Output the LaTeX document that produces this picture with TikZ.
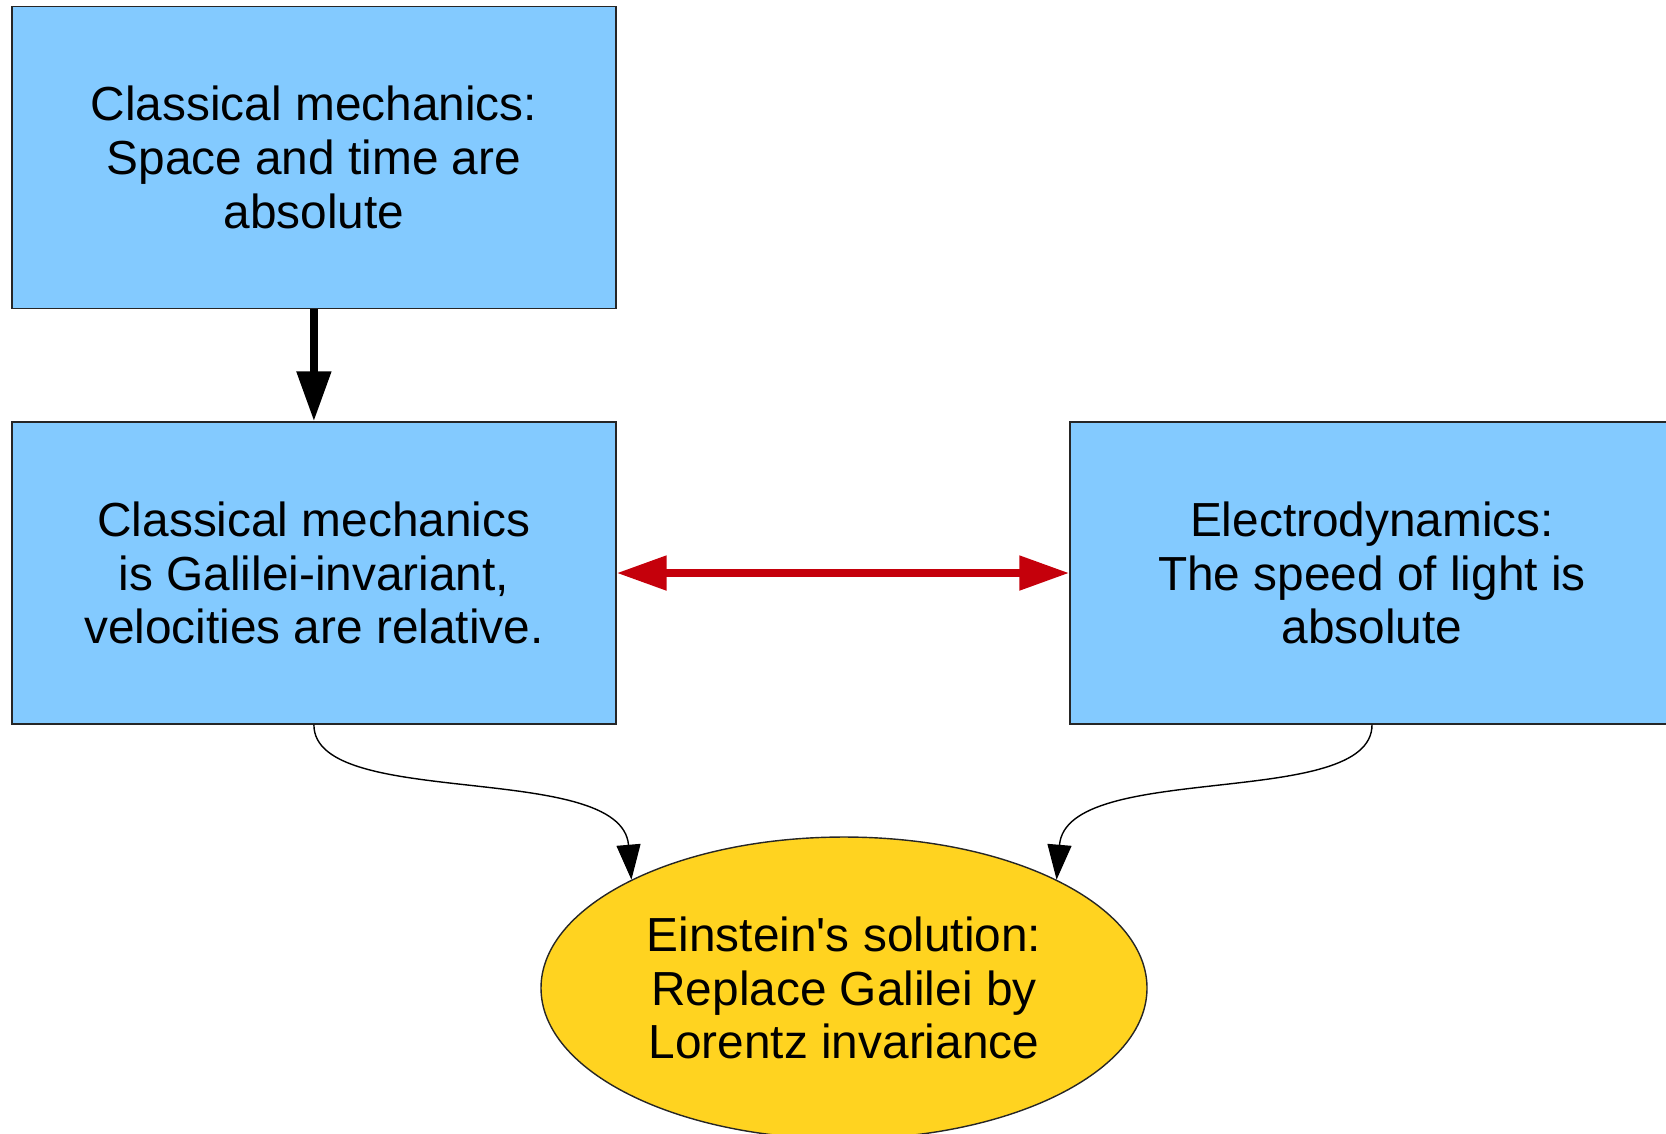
\documentclass[tikz,border=0pt]{standalone}
\usepackage{fontspec}
\setmainfont{Liberation Sans}
\usetikzlibrary{shapes.geometric,arrows.meta}
\definecolor{skyblue}{HTML}{83CAFF}
\definecolor{sunyellow}{HTML}{FFD320}
\definecolor{signalred}{HTML}{C5000B}
\tikzset{
	theory/.style = {rectangle, draw = black!85, line width = 0.4pt, fill = skyblue,
		minimum width = 6.04cm, minimum height = 3.02cm, inner sep = 0pt,
		align = center, font = \fontsize{13.6}{15.3}\selectfont},
	solution/.style = {ellipse, draw = black!85, line width = 0.4pt, fill = sunyellow,
		minimum width = 6.06cm, minimum height = 3.02cm, inner sep = 0pt,
		align = center, font = \fontsize{13.6}{15.3}\selectfont},
	bigarrow/.style = {line width = 2.3pt, -{Triangle[length = 0.5cm, width = 0.33cm]}},
	bothways/.style = {line width = 2.3pt, draw = signalred,
		{Triangle[length = 0.5cm, width = 0.33cm]}-{Triangle[length = 0.5cm, width = 0.33cm]}},
	thinarrow/.style = {line width = 0.4pt, -{Triangle[length = 0.35cm, width = 0.24cm]}}
}

\begin{document}
\begin{tikzpicture}

	\clip (0,0) rectangle (16.66,-11.33);

	\node[theory] (absolute) at (3.139,-1.572) {Classical mechanics:\\Space and time are\\absolute};
	\node[theory] (galilei) at (3.139,-5.73) {Classical mechanics\\is Galilei-invariant,\\velocities are relative.};
	\node[theory] (electro) at (13.72,-5.73) {Electrodynamics:\\The speed of light is\\absolute};
	\node[solution] (einstein) at (8.44,-9.88) {Einstein\textquotesingle s solution:\\Replace Galilei by\\Lorentz invariance};

	\draw[bigarrow] (absolute.south) -- (galilei.north);
	\draw[bothways] (galilei.east) -- (electro.west);

	\draw[thinarrow] (galilei.south) .. controls +(0,-0.86) and +(-0.1,1.2) .. (einstein.153);
	\draw[thinarrow] (electro.south) .. controls +(0,-0.86) and +(0.1,1.2) .. (einstein.27);

\end{tikzpicture}
\end{document}
